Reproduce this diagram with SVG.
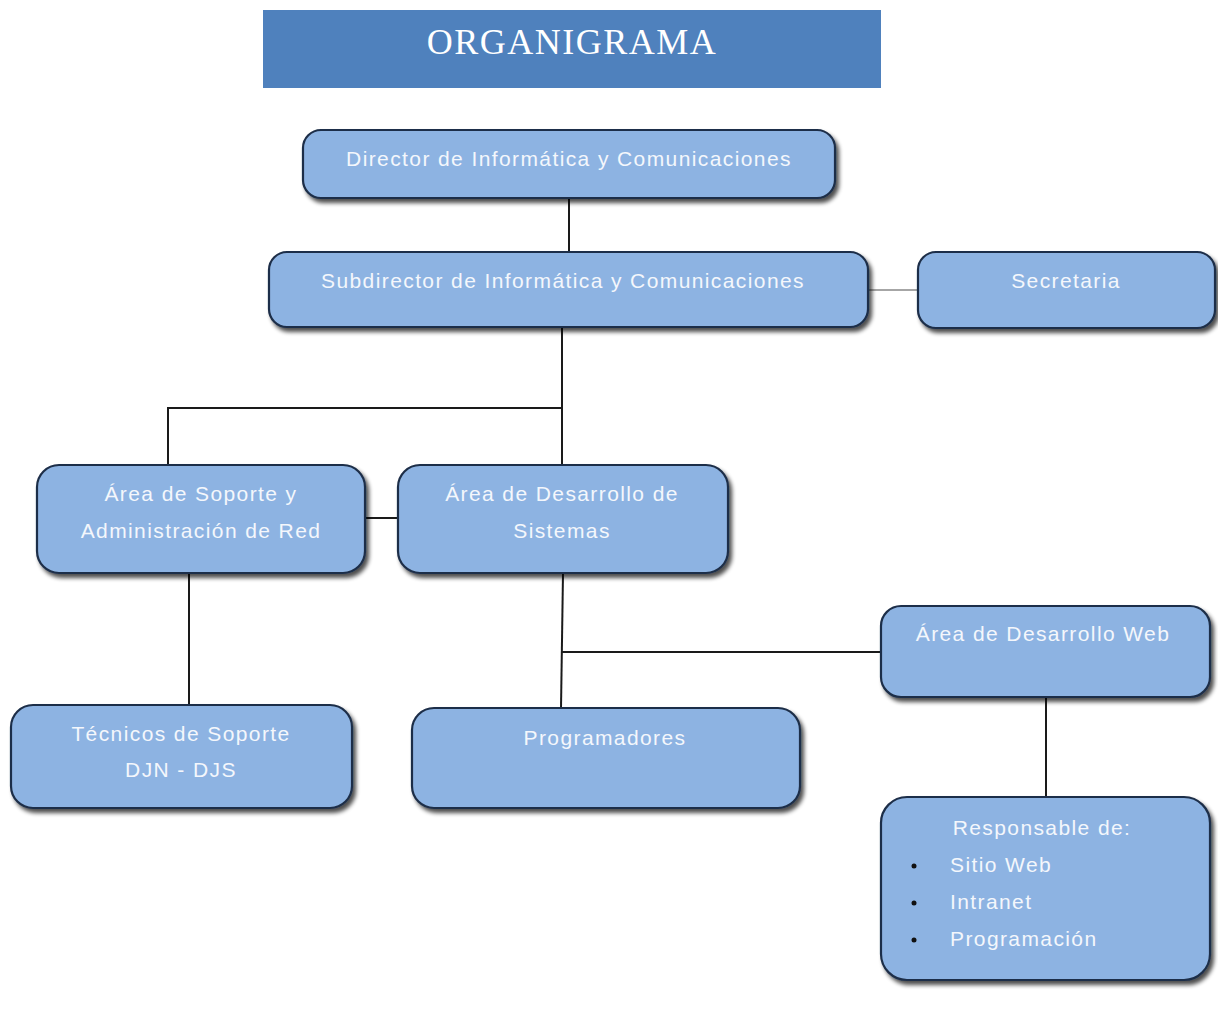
<svg xmlns="http://www.w3.org/2000/svg" width="1218" height="1015" viewBox="0 0 1218 1015">
<defs>
<filter id="sh" x="-10%" y="-10%" width="130%" height="140%">
<feGaussianBlur in="SourceAlpha" stdDeviation="2"/>
<feOffset dx="3" dy="4" result="b"/>
<feComponentTransfer><feFuncA type="linear" slope="0.7"/></feComponentTransfer>
<feMerge><feMergeNode/><feMergeNode in="SourceGraphic"/></feMerge>
</filter>
</defs>
<style>
.box{fill:#8db3e2;stroke:#1f2f48;stroke-width:2.2;filter:url(#sh)}
.t{font-family:"Liberation Sans",Arial,sans-serif;font-size:21px;letter-spacing:1.4px;fill:#f4f7fc;text-anchor:middle}
.tl{font-family:"Liberation Sans",Arial,sans-serif;font-size:21px;letter-spacing:1.4px;fill:#f4f7fc}
.c{stroke:#1a1a1a;stroke-width:2;fill:none}
.cg{stroke:#a6a6a6;stroke-width:2;fill:none}
</style>
<rect width="1218" height="1015" fill="#ffffff"/>
<g id="title">
<rect x="263" y="10" width="618" height="78" fill="#4f81bd"/>
<text x="572" y="54" font-family="Liberation Serif,serif" font-size="36" letter-spacing="1.5" fill="#ffffff" text-anchor="middle">ORGANIGRAMA</text>
</g>
<g id="connectors">
<line class="c" x1="569" y1="198" x2="569" y2="252"/>
<line class="cg" x1="868" y1="290" x2="918" y2="290"/>
<polyline class="c" points="562,327 562,465"/>
<polyline class="c" points="562,408 168,408 168,465"/>
<line class="c" x1="365" y1="518" x2="398" y2="518"/>
<line class="c" x1="189" y1="573" x2="189" y2="705"/>
<line class="c" x1="563" y1="573" x2="561" y2="708"/>
<line class="c" x1="562" y1="652" x2="881" y2="652"/>
<line class="c" x1="1046" y1="697" x2="1046" y2="797"/>
</g>
<g id="director">
<rect class="box" x="303" y="130" width="532" height="68" rx="18"/>
<text class="t" x="569" y="166">Director de Informática y Comunicaciones</text>
</g>
<g id="subdirector">
<rect class="box" x="269" y="252" width="599" height="75" rx="18"/>
<text class="t" x="563" y="288">Subdirector de Informática y Comunicaciones</text>
</g>
<g id="secretaria">
<rect class="box" x="918" y="252" width="297" height="76" rx="18"/>
<text class="t" x="1066" y="288">Secretaria</text>
</g>
<g id="soporte">
<rect class="box" x="37" y="465" width="328" height="108" rx="22"/>
<text class="t" x="201" y="501">Área de Soporte y</text>
<text class="t" x="201" y="538">Administración de Red</text>
</g>
<g id="sistemas">
<rect class="box" x="398" y="465" width="330" height="108" rx="22"/>
<text class="t" x="562" y="501">Área de Desarrollo de</text>
<text class="t" x="562" y="538">Sistemas</text>
</g>
<g id="web">
<rect class="box" x="881" y="606" width="329" height="91" rx="20"/>
<text class="t" x="1043" y="641">Área de Desarrollo Web</text>
</g>
<g id="tecnicos">
<rect class="box" x="11" y="705" width="341" height="103" rx="22"/>
<text class="t" x="181" y="741">Técnicos de Soporte</text>
<text class="t" x="181" y="777">DJN - DJS</text>
</g>
<g id="programadores">
<rect class="box" x="412" y="708" width="388" height="100" rx="22"/>
<text class="t" x="605" y="745">Programadores</text>
</g>
<g id="responsable">
<rect class="box" x="881" y="797" width="329" height="183" rx="26"/>
<text class="t" x="1042" y="835">Responsable de:</text>
<circle cx="914" cy="866" r="2.5" fill="#111"/>
<circle cx="914" cy="903" r="2.5" fill="#111"/>
<circle cx="914" cy="940" r="2.5" fill="#111"/>
<text class="tl" x="950" y="872">Sitio Web</text>
<text class="tl" x="950" y="909">Intranet</text>
<text class="tl" x="950" y="946">Programación</text>
</g>
</svg>
